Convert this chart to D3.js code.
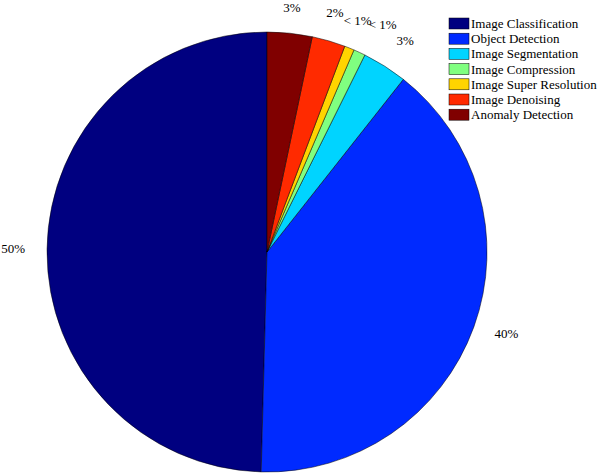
<!DOCTYPE html>
<html lang="en">
<head>
    <meta charset="UTF-8">
    <title>Pie</title>
    <script src="https://d3js.org/d3.v7.min.js" charset="utf-8"></script>
    <style>
        body { margin: 0; background: #fff; }
        svg text { font-family: "Liberation Serif", "DejaVu Serif", serif; font-size: 13px; fill: #000; }
    </style>
</head>
<body>
<script>
    // categories, values (percent share), colours (jet)
    let categories = ['Image Classification', 'Object Detection', 'Image Segmentation',
        'Image Compression', 'Image Super Resolution', 'Image Denoising', 'Anomaly Detection'];
    let values = [49.6, 39.8, 3.3, 0.87, 0.72, 2.45, 3.3];
    let colors = ['#000080', '#002AFF', '#00D4FF', '#80FF80', '#FFD400', '#FF2A00', '#800000'];

    var svg = d3.select('body').append('svg').attr('width', 598).attr('height', 476);

    let cx = 267, cy = 252, r = 220;
    let total = d3.sum(values);

    // matlab style labels
    function label(v) {
        let p = v / total * 100;
        return p < 1 ? '< 1%' : Math.round(p) + '%';
    }

    // counterclockwise from 12 o'clock
    let pie = d3.pie().sort(null).startAngle(0).endAngle(-2 * Math.PI);
    let arc = d3.arc().innerRadius(0).outerRadius(r);
    let arcs = pie(values);

    let g = svg.append('g').attr('transform', 'translate(' + cx + ',' + cy + ')');

    g.selectAll('path')
        .data(arcs).enter()
        .append('path')
        .attr('d', arc)
        .attr('fill', function (d, i) { return colors[i]; })
        .attr('stroke', '#000')
        .attr('stroke-width', 0.5);

    g.selectAll('text')
        .data(arcs).enter()
        .append('text')
        .attr('font-family', '"Liberation Serif", serif')
        .each(function (d, i) {
            let a = (d.startAngle + d.endAngle) / 2;
            let s = Math.sin(a), c = Math.cos(a);
            let x = s * r * 1.1, y = -c * r * 1.1;
            let anchor = s > 0.4 ? 'start' : (s < -0.4 ? 'end' : 'middle');
            let t = d3.select(this).attr('text-anchor', anchor).text(label(d.value));
            if (c > 0.7) {
                // keep top label inside the picture
                t.attr('x', x).attr('y', Math.max(y - 3, 12 - cy));
            } else {
                t.attr('x', x).attr('y', y + 4);
            }
        });

    // legend
    let legend = svg.append('g').attr('transform', 'translate(449,18)');
    let row = 15.2;
    let items = legend.selectAll('g')
        .data(categories).enter()
        .append('g')
        .attr('transform', function (d, i) { return 'translate(0,' + (i * row) + ')'; });
    items.append('rect')
        .attr('width', 20)
        .attr('height', 11)
        .attr('fill', function (d, i) { return colors[i]; })
        .attr('stroke', '#000')
        .attr('stroke-width', 0.5);
    items.append('text')
        .attr('font-family', '"Liberation Serif", serif')
        .attr('x', 22)
        .attr('y', 10)
        .text(function (d) { return d; });
</script>
</body>
</html>
